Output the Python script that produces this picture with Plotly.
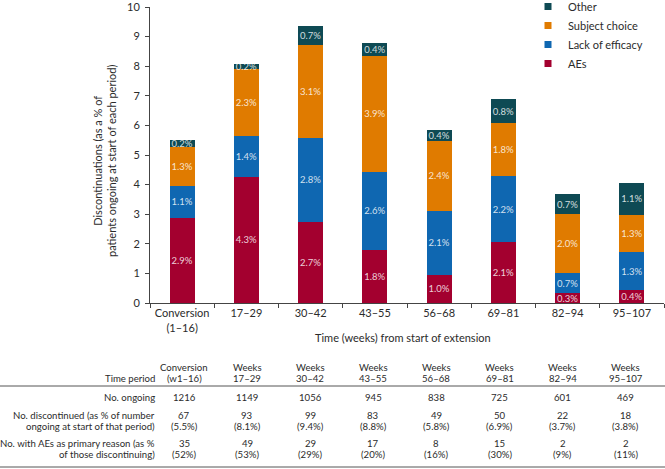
import plotly.graph_objects as go

# ---------------- data ----------------
categories = ["Conversion<br>(1–16)", "17–29", "30–42", "43–55", "56–68", "69–81", "82–94", "95–107"]
aes = [2.88, 4.26, 2.74, 1.80, 0.96, 2.07, 0.33, 0.43]
lack = [1.07, 1.39, 2.84, 2.63, 2.14, 2.21, 0.67, 1.28]
subject = [1.32, 2.26, 3.13, 3.92, 2.39, 1.79, 2.00, 1.28]
other = [0.25, 0.17, 0.66, 0.42, 0.36, 0.83, 0.67, 1.07]
y_ticks = [0, 1, 2, 3, 4, 5, 6, 7, 8, 9, 10]

period_top = ["Conversion", "Weeks", "Weeks", "Weeks", "Weeks", "Weeks", "Weeks", "Weeks"]
period_bottom = ["(w1–16)", "17–29", "30–42", "43–55", "56–68", "69–81", "82–94", "95–107"]
n_ongoing = [1216, 1149, 1056, 945, 838, 725, 601, 469]
n_disc = [67, 93, 99, 83, 49, 50, 22, 18]
pct_disc = [5.5, 8.1, 9.4, 8.8, 5.8, 6.9, 3.7, 3.8]
n_ae = [35, 49, 29, 17, 8, 15, 2, 2]
pct_ae = [52, 53, 29, 20, 16, 30, 9, 11]
row_labels = [["", "Time period"], ["No. ongoing"],
              ["No. discontinued (as % of number", "ongoing at start of that period)"],
              ["No. with AEs as primary reason (as %", "of those discontinuing)"]]

series = [("AEs", aes, "#a3002f"), ("Lack of efficacy", lack, "#0f67b1"),
          ("Subject choice", subject, "#e07b00"), ("Other", other, "#0e4a54")]

FONT = "Lato"
TXT = "#2b2b2b"

# geometry (pixels)
W, H = 665, 469
L, R, T, B = 150, 1, 7, 166
PW, PH = W - L - R, H - T - B


def px(x):
    return (x - L) / PW


def py(y):
    return (H - B - y) / PH


fig = go.Figure()
for name, vals, col in series:
    fig.add_trace(go.Bar(
        x=categories, y=vals, name=name, marker=dict(color=col, line=dict(width=0)),
        width=0.39, text=[f"{v:.1f}%" for v in vals], textposition="inside",
        insidetextanchor="middle", textangle=0,
        textfont=dict(family=FONT, size=9.5, color="rgba(255,255,255,0.82)"),
        showlegend=False, hoverinfo="skip"))

for name, vals, col in reversed(series):
    fig.add_trace(go.Scatter(
        x=[categories[0]], y=[None], mode="markers", name=name,
        marker=dict(symbol="square", size=7, color=col), showlegend=True))

ann = []
# axis titles
ann.append(dict(xref="paper", yref="paper", x=px(104), y=py(161), xanchor="center", yanchor="middle",
                textangle=-90, showarrow=False,
                text="Discontinuations (as a % of<br>patients ongoing at start of each period)",
                font=dict(family=FONT, size=11, color=TXT)))
ann.append(dict(xref="paper", yref="paper", x=px(403), y=py(337), xanchor="center", yanchor="middle",
                showarrow=False, text="Time (weeks) from start of extension",
                font=dict(family=FONT, size=11, color=TXT)))

# table
row_lines_y = [[367, 378.5], [397], [415, 426.5], [443, 454.5]]
TF = dict(family=FONT, size=9.6, color=TXT)
for labs, ys in zip(row_labels, row_lines_y):
    for lab, yy in zip(labs, ys):
        if lab:
            ann.append(dict(xref="paper", yref="paper", x=px(157), y=py(yy), xanchor="right",
                            yanchor="middle", showarrow=False, text=lab, font=TF))
for i in range(len(categories)):
    cx = 184 + 63.1 * i
    cells = [[period_top[i], period_bottom[i]], [str(n_ongoing[i])],
             [str(n_disc[i]), f"({pct_disc[i]:.1f}%)"], [str(n_ae[i]), f"({pct_ae[i]}%)"]]
    for lines, ys in zip(cells, row_lines_y):
        for txt, yy in zip(lines, ys):
            ann.append(dict(xref="paper", yref="paper", x=px(cx), y=py(yy), xanchor="center",
                            yanchor="middle", showarrow=False, text=txt, font=TF))

shapes = [
    dict(type="line", xref="paper", yref="paper", x0=px(0), x1=px(W), y0=py(386), y1=py(386),
         line=dict(color="#555", width=1)),
    dict(type="line", xref="paper", yref="paper", x0=px(0), x1=px(W), y0=py(467), y1=py(467),
         line=dict(color="#555", width=1)),
]

fig.update_layout(
    width=W, height=H, barmode="stack", bargap=0.61,
    margin=dict(l=L, r=R, t=T, b=B, autoexpand=False),
    paper_bgcolor="white", plot_bgcolor="white",
    font=dict(family=FONT, size=11, color=TXT),
    uniformtext=dict(mode="show", minsize=9.5),
    legend=dict(x=px(528), y=py(-8), xanchor="left", yanchor="top", traceorder="normal",
                bgcolor="rgba(0,0,0,0)", font=dict(family=FONT, size=11, color=TXT)),
    xaxis=dict(type="category", categoryorder="array", categoryarray=categories,
               showline=True, linecolor="#444", linewidth=1, ticks="outside", tickson="boundaries",
               ticklen=4, tickcolor="#444", showgrid=False, zeroline=False,
               tickfont=dict(family=FONT, size=11, color=TXT)),
    yaxis=dict(range=[0, 10], tickvals=y_ticks, showline=True, linecolor="#444", linewidth=1,
               ticks="outside", ticklen=4, tickcolor="#444", showgrid=False, zeroline=False,
               ticklabeloverflow="allow", ticklabelstandoff=3,
               tickfont=dict(family=FONT, size=11, color=TXT)),
    annotations=ann, shapes=shapes,
)

fig.write_html("out.html", config={"displayModeBar": False},
               post_script="document.body.style.margin='0';document.body.style.padding='0';")
